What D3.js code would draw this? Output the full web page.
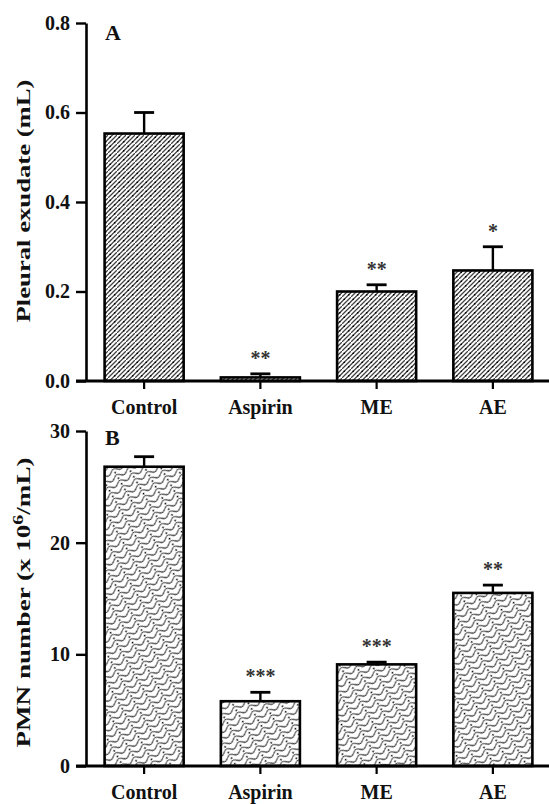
<!DOCTYPE html>
<html>
<head>
<meta charset="utf-8">
<script src="https://cdn.jsdelivr.net/npm/d3@7"></script>
<style>
  html, body { margin: 0; padding: 0; background: #fff; }
  svg { display: block; }
  text { font-family: "Liberation Serif", "Times New Roman", serif; font-weight: bold; fill: #111; }
</style>
</head>
<body>
<svg id="chart" width="549" height="804"></svg>
<script>
// ---- data ----
const categories = ["Control", "Aspirin", "ME", "AE"];
const exudateMean = [0.553, 0.008, 0.200, 0.247];
const exudateErr  = [0.047, 0.008, 0.015, 0.053];
const exudateSig  = ["", "**", "**", "*"];
const exudateTicks = [0.0, 0.2, 0.4, 0.6, 0.8];

const pmnMean = [26.8, 5.8, 9.1, 15.5];
const pmnErr  = [0.9, 0.8, 0.2, 0.7];
const pmnSig  = ["", "***", "***", "**"];
const pmnTicks = [0, 10, 20, 30];

const svg = d3.select("#chart");
const defs = svg.append("defs");

// Pattern A: diagonal hatch with dots
const pA = defs.append("pattern").attr("id", "patA")
  .attr("patternUnits", "userSpaceOnUse").attr("width", 9).attr("height", 9);
pA.append("rect").attr("width", 9).attr("height", 9).attr("fill", "#fff");
pA.append("path").attr("d", "M-1,5.5 L5.5,-1 M-1,10 L10,-1 M3.5,10 L10,3.5")
  .attr("stroke", "#444").attr("stroke-width", 1.3);
pA.append("circle").attr("cx", 2.25).attr("cy", 2.25).attr("r", 0.85).attr("fill", "#000");
pA.append("circle").attr("cx", 6.75).attr("cy", 6.75).attr("r", 0.85).attr("fill", "#000");

// Pattern B: wavy diagonal lines with dots
const pB = defs.append("pattern").attr("id", "patB")
  .attr("patternUnits", "userSpaceOnUse").attr("width", 14).attr("height", 6.5)
  .attr("patternTransform", "rotate(-30)");
pB.append("rect").attr("width", 14).attr("height", 6.5).attr("fill", "#fff");
pB.append("path").attr("d", "M0,3.25 C2.3,0.8 4.7,0.8 7,3.25 C9.3,5.7 11.7,5.7 14,3.25")
  .attr("fill", "none").attr("stroke", "#3a3a3a").attr("stroke-width", 1.1);
pB.append("circle").attr("cx", 3.5).attr("cy", 5.4).attr("r", 0.9).attr("fill", "#000");

function panel(opts) {
  const { means, errs, sigs, ticks, fmt, y0, y1, pattern, letter, title, titleLen } = opts;
  const g = svg.append("g");
  const x = d3.scaleBand().domain(categories).range([86, 551])
    .paddingInner(0.32).paddingOuter(0.16);
  const y = d3.scaleLinear().domain([ticks[0], ticks[ticks.length - 1]]).range([y0, y1]);

  // bars
  g.selectAll("rect.bar").data(categories).join("rect")
    .attr("class", "bar")
    .attr("x", d => x(d))
    .attr("width", x.bandwidth())
    .attr("y", (d, i) => y(means[i]))
    .attr("height", (d, i) => y(0) - y(means[i]))
    .attr("fill", `url(#${pattern})`)
    .attr("stroke", "#000").attr("stroke-width", 2.6);

  // error bars (upper)
  const cx = d => x(d) + x.bandwidth() / 2;
  g.selectAll("line.err").data(categories).join("line")
    .attr("x1", cx).attr("x2", cx)
    .attr("y1", (d, i) => y(means[i])).attr("y2", (d, i) => y(means[i] + errs[i]))
    .attr("stroke", "#000").attr("stroke-width", 2.4);
  g.selectAll("line.cap").data(categories).join("line")
    .attr("x1", d => cx(d) - 10).attr("x2", d => cx(d) + 10)
    .attr("y1", (d, i) => y(means[i] + errs[i])).attr("y2", (d, i) => y(means[i] + errs[i]))
    .attr("stroke", "#000").attr("stroke-width", 2.8);

  // significance
  g.selectAll("text.sig").data(categories).join("text")
    .attr("class", "sig")
    .attr("x", cx)
    .attr("y", (d, i) => y(means[i] + errs[i]) - 9)
    .attr("text-anchor", "middle")
    .style("font-size", "20px").style("fill", "#333")
    .text((d, i) => sigs[i]);

  // y axis
  const ya = g.append("g").attr("transform", "translate(86,0)")
    .call(d3.axisLeft(y).tickValues(ticks).tickFormat(fmt).tickSize(10).tickSizeOuter(0).tickPadding(6));
  ya.select(".domain").attr("stroke", "#000").attr("stroke-width", 2.6);
  ya.selectAll(".tick line").attr("stroke", "#000").attr("stroke-width", 2.4);
  ya.selectAll(".tick text").style("font-size", "20px").style("font-family", "Liberation Serif").style("font-weight", "bold").attr("fill", "#111");

  // x axis
  const xa = g.append("g").attr("transform", `translate(0,${y(0)})`)
    .call(d3.axisBottom(x).tickSize(8).tickSizeOuter(0).tickPadding(11));
  xa.select(".domain").remove();
  xa.selectAll(".tick line").attr("stroke", "#000").attr("stroke-width", 2.2);
  xa.selectAll(".tick text").style("font-size", "20px").style("font-family", "Liberation Serif").style("font-weight", "bold").attr("fill", "#111");
  g.append("line").attr("x1", 76).attr("x2", 549).attr("y1", y(0)).attr("y2", y(0))
    .attr("stroke", "#000").attr("stroke-width", 3);

  // panel letter
  g.append("text").attr("x", 105).attr("y", y1 + (letter === "A" ? 17 : 14))
    .style("font-size", "22px").text(letter);

  // axis title
  const t = g.append("text")
    .attr("transform", `translate(30,${(y0 + y1) / 2 + opts.titleShift}) rotate(-90)`)
    .attr("text-anchor", "middle")
    .attr("textLength", titleLen).attr("lengthAdjust", "spacingAndGlyphs")
    .style("font-size", "19px");
  title(t);
}

panel({
  means: exudateMean, errs: exudateErr, sigs: exudateSig, ticks: exudateTicks,
  fmt: d3.format(".1f"), y0: 381, y1: 23, pattern: "patA", letter: "A",
  titleLen: 243, titleShift: -1,
  title: t => t.text("Pleural exudate (mL)")
});

panel({
  means: pmnMean, errs: pmnErr, sigs: pmnSig, ticks: pmnTicks,
  fmt: d3.format("d"), y0: 766, y1: 431, pattern: "patB", letter: "B",
  titleLen: 290, titleShift: 4,
  title: t => {
    t.append("tspan").text("PMN number (x 10");
    t.append("tspan").attr("dy", -7).style("font-size", "14px").text("6");
    t.append("tspan").attr("dy", 7).text("/mL)");
  }
});
</script>
</body>
</html>
